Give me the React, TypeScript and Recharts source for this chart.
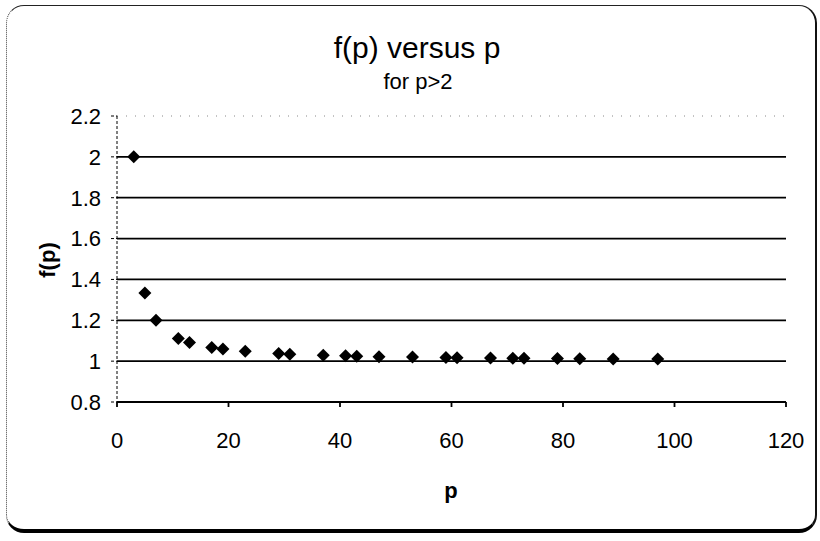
import { CartesianGrid, Scatter, ScatterChart, XAxis, YAxis } from "recharts";

// primes p > 2 and the value read for each one
const primes = [3, 5, 7, 11, 13, 17, 19, 23, 29, 31, 37, 41, 43, 47, 53, 59, 61, 67, 71, 73, 79, 83, 89, 97];
const fValues = [
  2, 1.333, 1.2, 1.111, 1.091, 1.067, 1.059, 1.048, 1.037, 1.034, 1.029, 1.026,
  1.024, 1.022, 1.02, 1.018, 1.017, 1.015, 1.014, 1.014, 1.013, 1.012, 1.011, 1.011,
];
const xTicks = [0, 20, 40, 60, 80, 100, 120];
const yTicks = [0.8, 1, 1.2, 1.4, 1.6, 1.8, 2, 2.2];

const points = primes.map((p, i) => ({ p, f: fValues[i] }));

const FONT = "'Liberation Sans', Arial, sans-serif";

function Diamond(props: any) {
  const { cx, cy } = props;
  const r = 6.5;
  return (
    <polygon
      points={`${cx},${cy - r} ${cx + r},${cy} ${cx},${cy + r} ${cx - r},${cy}`}
      fill="#000"
    />
  );
}

function GridLine(props: any) {
  const { x1, x2, y1, y2, y, height } = props;
  if (Math.abs(y1 - (y + height)) < 1) return <g />;
  const top = Math.abs(y1 - y) < 1;
  return (
    <line
      x1={x1}
      x2={x2}
      y1={y1}
      y2={y2}
      stroke={top ? "#888" : "#000"}
      strokeWidth={top ? 1 : 1.8}
      strokeDasharray={top ? "1 8" : undefined}
    />
  );
}

export default function App() {
  return (
    <div style={{ position: "absolute", left: 0, top: 0, width: 820, height: 541, background: "#fff" }}>
      <div
        style={{
          position: "absolute",
          left: 6,
          top: 5,
          width: 811,
          height: 528,
          boxSizing: "border-box",
          borderTop: "1.5px solid #222",
          borderLeft: "1px dotted #444",
          borderRight: "2px solid #111",
          borderBottom: "4px solid #000",
          borderRadius: 18,
        }}
      />
      <div style={{ position: "absolute", left: 0, top: 0 }}>
        <ScatterChart width={820} height={541} margin={{ top: 116, right: 34, bottom: 79, left: 57 }}>
          <CartesianGrid vertical={false} horizontal={(p: any) => <GridLine {...p} />} />
          <XAxis
            type="number"
            dataKey="p"
            domain={[0, 120]}
            ticks={xTicks}
            height={60}
            stroke="#000"
            strokeWidth={1.8}
            tickSize={5}
            tickMargin={25}
            tick={{ fontSize: 22, fill: "#000", fontFamily: FONT }}
          />
          <YAxis
            type="number"
            dataKey="f"
            domain={[0.8, 2.2]}
            ticks={yTicks}
            width={60}
            stroke="#000"
            strokeDasharray="3 2"
            tickSize={6}
            tickMargin={10}
            tick={{ fontSize: 22, fill: "#000", fontFamily: FONT }}
          />
          <Scatter data={points} shape={<Diamond />} isAnimationActive={false} />
        </ScatterChart>
      </div>
      <svg
        width={820}
        height={541}
        style={{ position: "absolute", left: 0, top: 0, pointerEvents: "none" }}
        fontFamily={FONT}
      >
        <text x={417} y={58} textAnchor="middle" fontSize={30} fill="#000">
          f(p) versus p
        </text>
        <text x={418} y={89} textAnchor="middle" fontSize={22} fill="#000">
          for p&gt;2
        </text>
        <text x={451} y={498} textAnchor="middle" fontSize={22} fontWeight="bold" fill="#000">
          p
        </text>
        <text
          x={0}
          y={0}
          transform="translate(55 260) rotate(-90)"
          textAnchor="middle"
          fontSize={22}
          fontWeight="bold"
          fill="#000"
        >
          f(p)
        </text>
      </svg>
    </div>
  );
}
